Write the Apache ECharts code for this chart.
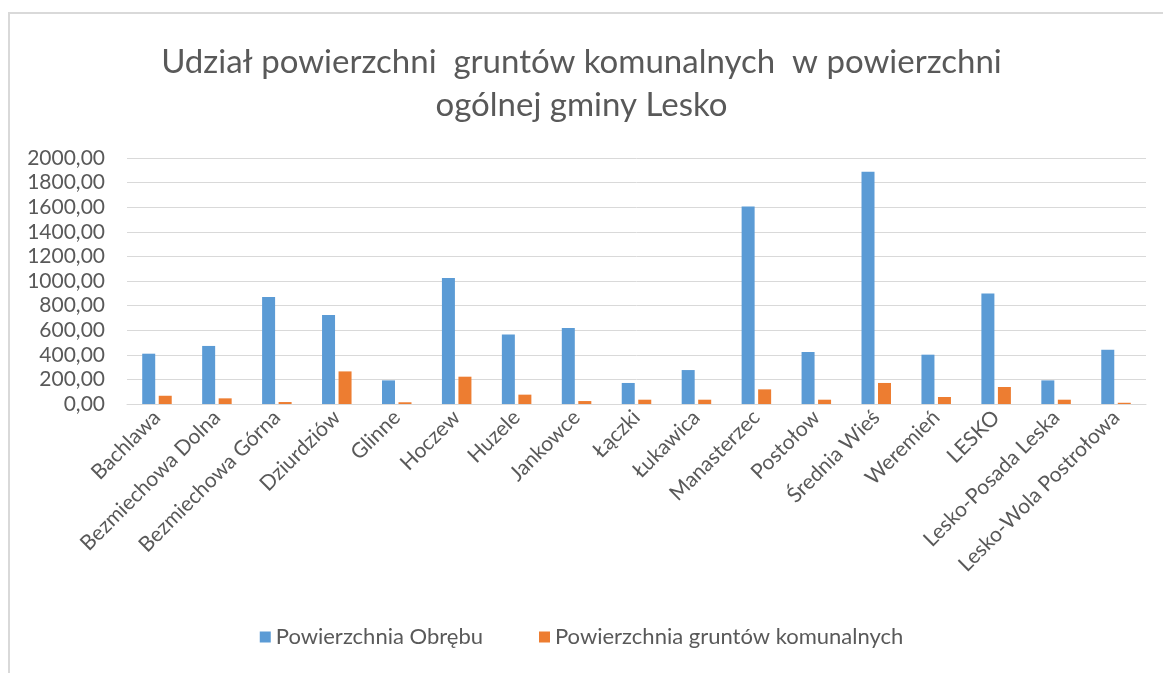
<!DOCTYPE html>
<html>
<head>
<meta charset="utf-8">
<script src="https://cdn.jsdelivr.net/npm/echarts@6/dist/echarts.min.js"></script>
<style>
  html, body { margin: 0; padding: 0; background: #fff; }
  #chart { width: 1163px; height: 673px; }
</style>
</head>
<body>
<div id="chart"></div>
<script>
// obręby gminy Lesko
const categories = [
  'Bachlawa', 'Bezmiechowa Dolna', 'Bezmiechowa Górna', 'Dziurdziów', 'Glinne',
  'Hoczew', 'Huzele', 'Jankowce', 'Łączki', 'Łukawica', 'Manasterzec', 'Postołow',
  'Średnia Wieś', 'Weremień', 'LESKO', 'Lesko-Posada Leska', 'Lesko-Wola Postrołowa'
];
const powObrebu = [409, 472, 870, 723, 192, 1024, 566, 618, 171, 276, 1606, 423, 1889, 401, 899, 192, 441];
const powKomunalne = [67, 46, 16, 265, 14, 222, 76, 24, 35, 35, 119, 35, 171, 57, 138, 35, 10];
const yTicks = [0, 200, 400, 600, 800, 1000, 1200, 1400, 1600, 1800, 2000];

const myChart = echarts.init(document.getElementById('chart'));
const txt = '#595959';
const font = 'Lato, "Open Sans", sans-serif';

let option = {
  animation: false,
  textStyle: { fontFamily: font },
  title: {
    text: 'Udział powierzchni  gruntów komunalnych  w powierzchni\nogólnej gminy Lesko',
    left: 'center',
    top: 36,
    textStyle: {
      color: txt,
      fontSize: 33,
      fontWeight: 'normal',
      lineHeight: 43,
      fontFamily: font,
    },
  },
  //ramka wykresu
  graphic: [
    {
      type: 'rect',
      silent: true,
      shape: { x: 9, y: 13, width: 1200, height: 700 },
      style: { fill: 'none', stroke: '#d9d9d9', lineWidth: 2 },
    },
  ],
  legend: {
    bottom: 20,
    left: 'center',
    icon: 'rect',
    itemWidth: 11,
    itemHeight: 11,
    itemGap: 56,
    textStyle: { color: txt, fontSize: 22, fontFamily: font },
  },
  color: ['#5b9bd5', '#ed7d31'],
  grid: { left: 127, right: 17, top: 158, bottom: 269 },
  xAxis: {
    type: 'category',
    data: categories,
    axisTick: { show: false },
    axisLine: { lineStyle: { color: '#d9d9d9', width: 1 } },
    axisLabel: {
      rotate: 45,
      interval: 0,
      color: txt,
      fontSize: 21,
      margin: 10,
      fontFamily: font,
    },
  },
  yAxis: {
    type: 'value',
    min: yTicks[0],
    max: yTicks[yTicks.length - 1],
    interval: 200,
    axisLine: { show: false },
    axisTick: { show: false },
    splitLine: { lineStyle: { color: '#d9d9d9', width: 1 } },
    axisLabel: {
      color: txt,
      fontSize: 21,
      margin: 22,
      fontFamily: font,
      formatter: (v) => v.toFixed(2).replace('.', ','),
    },
  },
  series: [
    {
      name: 'Powierzchnia Obrębu',
      type: 'bar',
      barWidth: 13,
      barGap: '27%',
      data: powObrebu,
    },
    {
      name: 'Powierzchnia gruntów komunalnych',
      type: 'bar',
      barWidth: 13,
      barGap: '27%',
      data: powKomunalne,
    },
  ],
};
myChart.setOption(option);
</script>
</body>
</html>
